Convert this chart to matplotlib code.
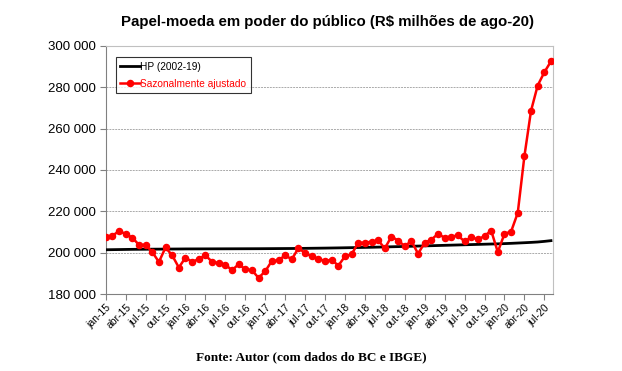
import matplotlib.pyplot as plt
from matplotlib.ticker import FuncFormatter

plt.rcParams['font.family'] = ['Liberation Sans', 'DejaVu Sans']

# Papel-moeda em poder do público, mensal jan-15 .. ago-20 (R$ milhões de ago-20)
ajustado = [
    207400, 208200, 210400, 209100, 207200, 203800, 203800, 200300, 195500, 202500, 198700, 192800,  # 2015
    197600, 195500, 196900, 198700, 195600, 195000, 194200, 191500, 194400, 192000, 191500, 187800,  # 2016
    191000, 196000, 196300, 198700, 196800, 202200, 199800, 198200, 197100, 195900, 196600, 193700,  # 2017
    198200, 199200, 204800, 204800, 205300, 205900, 202100, 207800, 205800, 203200, 205600, 199500,  # 2018
    204800, 206300, 209100, 207200, 207800, 208300, 205400, 207500, 206400, 208000, 210700, 200300,  # 2019
    209100, 210200, 219200, 246600, 268600, 280800, 287200, 292500,                                  # 2020
]
hp = [
    201400, 201450, 201500, 201550, 201600, 201620, 201650, 201680, 201700, 201720, 201750, 201770,
    201800, 201810, 201820, 201830, 201840, 201850, 201860, 201870, 201880, 201890, 201900, 201910,
    201930, 201950, 201970, 201990, 202010, 202040, 202080, 202120, 202160, 202200, 202250, 202300,
    202360, 202420, 202480, 202540, 202600, 202680, 202760, 202840, 202920, 203000, 203090, 203180,
    203270, 203360, 203450, 203540, 203630, 203720, 203810, 203900, 203990, 204080, 204170, 204260,
    204370, 204500, 204650, 204800, 204960, 205150, 205450, 205800,
]
meses = ['jan', 'fev', 'mar', 'abr', 'mai', 'jun', 'jul', 'ago', 'set', 'out', 'nov', 'dez']
rotulos = [f'{meses[i % 12]}-{15 + i // 12}' for i in range(len(ajustado))]

fig = plt.figure(figsize=(6.22, 3.71), dpi=100)
ax = fig.add_axes([0.170, 0.2075, 0.719, 0.669])

x = list(range(len(ajustado)))
ax.plot(x, hp, color='black', lw=2.0, label='HP (2002-19)', zorder=3)
ax.plot(x, ajustado, color='#ff0000', lw=1.8, marker='o', ms=4.4,
        label='Sazonalmente ajustado', zorder=4)

ax.set_ylim(180000, 300000)
ax.set_yticks(range(180000, 300001, 20000))
ax.yaxis.set_major_formatter(FuncFormatter(lambda v, p: f'{int(v):,}'.replace(',', ' ')))
ax.set_xlim(0, 67.3)
ax.set_xticks(x[::3])
ax.set_xticklabels(rotulos[::3], rotation=45, ha='right', rotation_mode='anchor', fontsize=7.5)
ax.tick_params(axis='y', labelsize=9.5, length=4, color='#808080', pad=3)
ax.tick_params(axis='x', length=4, color='#808080', pad=2)

for v in range(200000, 300000, 20000):
    ax.axhline(v, color='#aaaaaa', lw=0.7, ls=(0, (2, 1)), zorder=1)

for s in ['left', 'bottom']:
    ax.spines[s].set_color('#808080')
for s in ['top', 'right']:
    ax.spines[s].set_color('#c0c0c0')

leg = ax.legend(loc='upper left', bbox_to_anchor=(0.022, 0.955), fontsize=7.3,
                frameon=True, fancybox=False, handlelength=2.0, handletextpad=0.0,
                borderpad=0.45, labelspacing=0.7, borderaxespad=0)
leg.get_frame().set_edgecolor('black')
leg.get_frame().set_linewidth(0.8)
leg.get_texts()[1].set_color('#ff0000')

fig.text(0.526, 0.94, 'Papel-moeda em poder do público (R$ milhões de ago-20)',
         ha='center', va='center', fontsize=10.8, fontweight='bold')
fig.text(0.5, 0.038, 'Fonte: Autor (com dados do BC e IBGE)', ha='center', va='center',
         fontsize=9.5, fontweight='bold', family='Liberation Serif')

fig.savefig('out.png', dpi=100)
